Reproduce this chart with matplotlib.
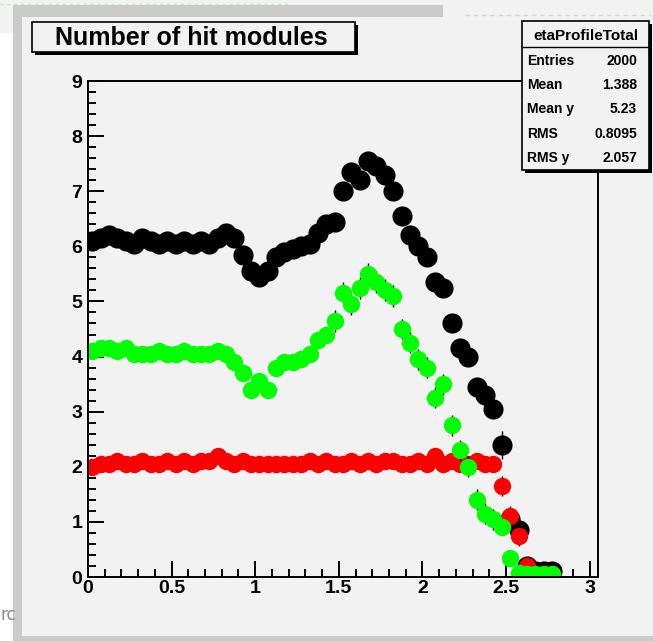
import matplotlib
matplotlib.use("Agg")
import matplotlib.pyplot as plt
import numpy as np
from matplotlib.lines import Line2D
from matplotlib.patches import Rectangle
from matplotlib.ticker import MultipleLocator

W, H = 653, 641
PAD = "#f2f2f2"
FRAME = "#cbcbcb"
FONT = "Liberation Sans"

# profile bin centres, 0.05 wide bins
eta = np.round(np.arange(0.025, 2.8, 0.05), 3)

total = [6.10, 6.15, 6.20, 6.15, 6.10, 6.05, 6.15, 6.10, 6.05, 6.10,
         6.05, 6.10, 6.05, 6.10, 6.05, 6.15, 6.25, 6.15, 5.85, 5.55,
         5.45, 5.55, 5.80, 5.90, 5.95, 6.00, 6.05, 6.25, 6.40, 6.45,
         7.00, 7.35, 7.20, 7.55, 7.45, 7.30, 7.00, 6.55, 6.20, 6.00,
         5.80, 5.35, 5.25, 4.60, 4.15, 4.00, 3.45, 3.30, 3.05, 2.40,
         1.05, 0.85, 0.20, 0.10, 0.10, 0.10]
total_err = [0.05] * 30 + [0.10] * 7 + [0.12] * 12 + [0.25, 0.15, 0.15] + [0.05] * 4

green = [4.10, 4.15, 4.15, 4.10, 4.15, 4.05, 4.05, 4.05, 4.10, 4.05,
         4.05, 4.10, 4.05, 4.05, 4.05, 4.10, 4.05, 3.90, 3.70, 3.40,
         3.55, 3.40, 3.80, 3.90, 3.90, 3.95, 4.05, 4.30, 4.40, 4.65,
         5.15, 4.95, 5.25, 5.50, 5.35, 5.20, 5.10, 4.50, 4.25, 3.95,
         3.80, 3.25, 3.50, 2.75, 2.30, 2.00, 1.40, 1.15, 1.05, 0.90,
         0.35, 0.08, 0.05, 0.05, 0.05, 0.05]
green_err = [0.05] * 29 + [0.20] * 8 + [0.19] * 12 + [0.12] * 3 + [0.03] * 4

red = [2.00, 2.05, 2.05, 2.10, 2.05, 2.05, 2.10, 2.05, 2.05, 2.10,
       2.05, 2.10, 2.05, 2.10, 2.10, 2.20, 2.10, 2.05, 2.10, 2.05,
       2.05, 2.05, 2.05, 2.05, 2.05, 2.05, 2.10, 2.05, 2.10, 2.05,
       2.05, 2.10, 2.05, 2.10, 2.05, 2.10, 2.10, 2.05, 2.05, 2.10,
       2.05, 2.20, 2.05, 2.10, 2.05, 2.05, 2.10, 2.05, 2.05, 1.65,
       1.10, 0.75, 0.20, 0.05, 0.05, 0.05]
red_err = [0.05] * 49 + [0.18, 0.18, 0.18] + [0.05] * 4

stats_title = "etaProfileTotal"
stats_labels = ["Entries", "Mean", "Mean y", "RMS", "RMS y"]
stats_values = ["2000", "1.388", "5.23", "0.8095", "2.057"]


def fx(x):
    return x / W


def fy(y):
    return 1 - y / H


fig = plt.figure(figsize=(W / 100, H / 100), dpi=100, facecolor=PAD)


def box(x0, y0, x1, y1, **kw):
    r = Rectangle((fx(x0), fy(y1)), (x1 - x0) / W, (y1 - y0) / H,
                  transform=fig.transFigure, **kw)
    fig.add_artist(r)


# screenshot surroundings
box(0, 33, 13, H, facecolor="white", edgecolor="none")
box(13, 5, 443, 17, facecolor=FRAME, edgecolor="none")
box(13, 5, 22, H, facecolor=FRAME, edgecolor="none")
box(13, 636, W, H, facecolor=FRAME, edgecolor="none")
fig.add_artist(Line2D([0, fx(290)], [fy(4), fy(4)], transform=fig.transFigure,
                      color="#b5efb5", lw=1, ls=(0, (2, 3))))
fig.add_artist(Line2D([fx(465), fx(650)], [fy(15), fy(15)], transform=fig.transFigure,
                      color="#b5efb5", lw=1, ls=(0, (3, 3))))
fig.text(fx(0), fy(615), "rc", color="#8a8a8a", fontsize=12, va="center",
         family="DejaVu Sans")

ax = fig.add_axes([fx(88), fy(577), (598 - 88) / W, (577 - 81) / H], facecolor=PAD)

for y, err, col, ms in [(total, total_err, "black", 14.5),
                        (red, red_err, "#ff0000", 12.5),
                        (green, green_err, "#00ff00", 12.5)]:
    ax.errorbar(eta, y, yerr=err, fmt="none", ecolor="black", elinewidth=1)
    ax.plot(eta, y, "o", ms=ms, color=col, mec=col, mew=0)

ax.set_xlim(0, 3.05)
ax.set_ylim(0, 9)
ax.xaxis.set_major_locator(MultipleLocator(0.5))
ax.xaxis.set_minor_locator(MultipleLocator(0.1))
ax.yaxis.set_major_locator(MultipleLocator(1))
ax.yaxis.set_minor_locator(MultipleLocator(0.2))
ax.xaxis.set_major_formatter(lambda v, p: f"{v:g}")
ax.yaxis.set_major_formatter(lambda v, p: f"{v:g}")
ax.tick_params(which="both", direction="in", top=False, right=False, width=1.4,
               labelsize=14)
ax.tick_params(which="major", length=11.5)
ax.tick_params(which="minor", length=5.5)
ax.tick_params(axis="x", pad=2.5)
ax.tick_params(axis="y", pad=4)
for lab in ax.get_xticklabels() + ax.get_yticklabels():
    lab.set_fontweight("bold")
    lab.set_family(FONT)
for s in ax.spines.values():
    s.set_linewidth(1.4)

# title box
box(35, 25, 358, 55, facecolor="black", edgecolor="none")
box(32, 22, 355, 52, facecolor=PAD, edgecolor="black", lw=1.2)
fig.text(fx(191), fy(45), "Number of hit modules", ha="center", va="baseline",
         fontsize=18, fontweight="bold", family=FONT)

# stats box
box(525, 24, 652, 173, facecolor="black", edgecolor="none")
box(522, 21, 649, 170, facecolor=PAD, edgecolor="black", lw=1.2)
fig.add_artist(Line2D([fx(522), fx(649)], [fy(46.5), fy(46.5)],
                      transform=fig.transFigure, color="black", lw=1))
fig.text(fx(586), fy(39.5), stats_title, ha="center", va="baseline",
         fontsize=11, fontweight="bold", family=FONT)
for i, (lab, val) in enumerate(zip(stats_labels, stats_values)):
    yb = fy(65 + 24.2 * i)
    fig.text(fx(527), yb, lab, ha="left", va="baseline", fontsize=10,
             fontweight="bold", family=FONT)
    fig.text(fx(637), yb, val, ha="right", va="baseline", fontsize=10,
             fontweight="bold", family=FONT)

fig.savefig("out.png", dpi=100, facecolor=fig.get_facecolor())
